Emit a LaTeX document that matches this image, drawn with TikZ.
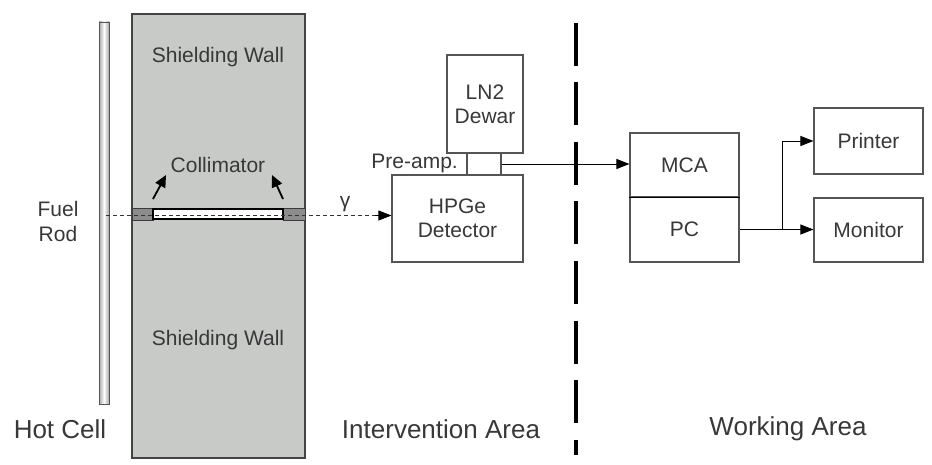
\documentclass[tikz,border=0pt]{standalone}
\usepackage{fontspec}
\setmainfont{Liberation Sans}
\usetikzlibrary{arrows.meta,positioning}
\definecolor{txt}{HTML}{383838}
\definecolor{edge}{HTML}{555555}
\definecolor{wallfill}{HTML}{C8CAC8}
\definecolor{plug}{HTML}{8C8C8C}
\tikzset{
  unitbox/.style={draw=edge,line width=1.1pt,fill=white,inner sep=0pt,
    font=\fontsize{21}{24}\selectfont,text=txt,align=center},
  lbl/.style={font=\fontsize{21}{25}\selectfont,text=txt,align=center,inner sep=0pt},
  arealbl/.style={font=\fontsize{26}{30}\selectfont,text=txt,inner sep=0pt},
  sig/.style={draw=black,line width=0.9pt,-{Triangle[length=13pt,width=10pt]}},
  beam/.style={draw=black!80,line width=0.8pt,dash pattern=on 4pt off 3pt},
  pointer/.style={draw=black,line width=1.8pt,-{Triangle[length=12pt,width=11pt]}}
}
\begin{document}
\begin{tikzpicture}[x=1pt,y=-1pt]
\useasboundingbox (0,0) rectangle (932,465);

% fuel rod
\shade[left color=gray!70,right color=gray!70,middle color=white,draw=edge,line width=0.8pt]
  (99,22) rectangle (109,404);
\node[lbl] (fuel) at (58,221) {Fuel\\Rod};

% shielding wall
\node[draw=edge!80!black,line width=1.2pt,fill=wallfill,minimum width=173pt,minimum height=444pt,
  inner sep=0pt] (wall) at (218.5,236) {};
\node[lbl] (wtop) at (218,57) {Shielding Wall};
\node[lbl] (wbot) at (218,340) {Shielding Wall};

% collimator channel through the wall
\draw[fill=plug,draw=edge!70!black,line width=0.8pt] (132,208) rectangle (153,220);
\draw[fill=plug,draw=edge!70!black,line width=0.8pt] (283,208) rectangle (305,220);
\draw[fill=white,draw=black,line width=1.3pt] (153,209) rectangle (283,219);
\node[lbl] (coll) at (218,165) {Collimator};
\coordinate (cl) at (153,199);
\coordinate (cr) at (283,199);
\draw[pointer] (cl) -- (166,175);
\draw[pointer] (cr) -- (272,175);

% detector assembly
\node[unitbox,minimum width=76pt,minimum height=98pt] (dewar) at (485,104) {LN2\\Dewar};
\node[unitbox,minimum width=34pt,minimum height=22pt] (preamp) at (484,164) {};
\node[unitbox,minimum width=131pt,minimum height=87pt] (hpge) at (457.5,218.5) {HPGe\\Detector};
\node[lbl,anchor=east] (prelbl) at (458,163) {Pre-amp.};

% gamma ray path
\coordinate (src) at (106,215.5);
\draw[beam] (src) -- (src -| hpge.west);
\draw[-{Triangle[length=13pt,width=10pt]},draw=black,line width=0.8pt]
  ([xshift=-16pt]src -| hpge.west) -- (src -| hpge.west);
\node[lbl] (gamma) at (345,204) {γ};

% area divider
\coordinate (dtop) at (576,23);
\coordinate (dbot) at (576,455);
\draw[line width=4.5pt,dash pattern=on 43pt off 16.5pt] (dtop) -- (dbot);

% acquisition and output units
\node[unitbox,minimum width=109pt,minimum height=64pt] (mca) at (684.5,165) {MCA};
\node[unitbox,minimum width=109pt,minimum height=65pt] (pc) at (684.5,229.5) {PC};
\draw[black,line width=1.3pt] (mca.south west) -- (mca.south east);
\node[unitbox,minimum width=109pt,minimum height=66pt] (printer) at (868.5,141) {Printer};
\node[unitbox,minimum width=109pt,minimum height=64pt] (monitor) at (868.5,230) {Monitor};

% signal connections
\draw[sig] (preamp.east) -- (preamp.east -| mca.west);
\draw[sig] (pc.east) -- (pc.east -| monitor.west);
\coordinate (split) at (782,230);
\draw[sig] (split) |- (printer.west);

% area labels
\node[arealbl] (hot) at (60,429) {Hot Cell};
\node[arealbl] (inter) at (441,429) {Intervention Area};
\node[arealbl] (work) at (788,429) {Working Area};
\end{tikzpicture}
\end{document}
